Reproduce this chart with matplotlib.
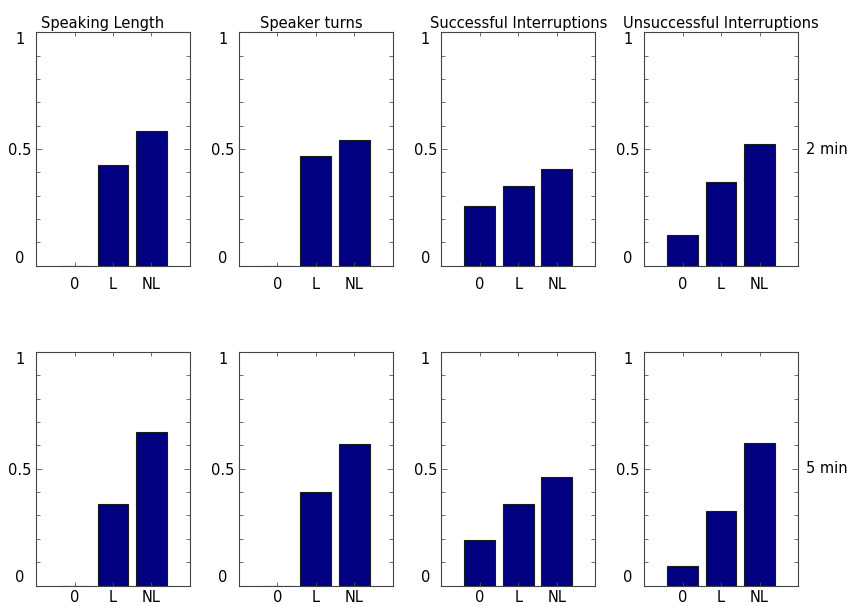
import numpy as np
import matplotlib
matplotlib.use("Agg")
import matplotlib.pyplot as plt
from matplotlib.ticker import MultipleLocator

# data
categories = ["0", "L", "NL"]
titles = ["Speaking Length", "Speaker turns", "Successful Interruptions", "Unsuccessful Interruptions"]
row_labels = ["2 min", "5 min"]

# 2 min window
speaking_length_2 = [0.0, 0.43, 0.577]
speaker_turns_2 = [0.0, 0.47, 0.54]
succ_interr_2 = [0.254, 0.34, 0.416]
unsucc_interr_2 = [0.13, 0.36, 0.52]

# 5 min window
speaking_length_5 = [0.0, 0.35, 0.658]
speaker_turns_5 = [0.0, 0.40, 0.606]
succ_interr_5 = [0.197, 0.35, 0.464]
unsucc_interr_5 = [0.083, 0.318, 0.609]

rows = [
    [speaking_length_2, speaker_turns_2, succ_interr_2, unsucc_interr_2],
    [speaking_length_5, speaker_turns_5, succ_interr_5, unsucc_interr_5],
]

fig = plt.figure(figsize=(8.48, 6.07), dpi=100)

lefts = [36, 238.7, 441.3, 644]
tops = [32.3, 352.0]
title_x = [0.43, 0.47, 0.5, 0.5]
xpads = [8, 3]
W, H = 848.0, 607.0
ax_w, ax_h = 154.0, 233.5
fs = 10.5

x = np.arange(1, len(categories) + 1)

for r, row in enumerate(rows):
    for c, vals in enumerate(row):
        ax = fig.add_axes([lefts[c] / W, 1 - (tops[r] + ax_h) / H, ax_w / W, ax_h / H])
        ax.bar(x, vals, width=0.8, color="#000080", edgecolor="#1a1a1a", linewidth=0.8)
        ax.set_xlim(0, 4)
        ax.set_ylim(0, 1)
        ax.set_xticks(x)
        ax.set_xticklabels(categories, fontsize=fs)
        ax.set_yticks([0, 0.5, 1])
        ax.set_yticklabels(["0", "0.5", "1"], fontsize=fs)
        ax.yaxis.set_minor_locator(MultipleLocator(0.1))
        ax.tick_params(axis="both", which="both", direction="in", top=True, right=True,
                       color="#555555", width=0.6)
        ax.tick_params(axis="y", which="major", length=4, pad=11.5)
        ax.tick_params(axis="y", which="minor", length=3)
        ax.tick_params(axis="x", which="major", length=3, pad=xpads[r])
        for lbl in ax.get_yticklabels():
            lbl.set_horizontalalignment("center")
        ylbls = ax.get_yticklabels()
        ylbls[0].set_verticalalignment("bottom")
        ylbls[2].set_verticalalignment("top")
        for sp in ax.spines.values():
            sp.set_color("#444444")
            sp.set_linewidth(0.8)
        if r == 0:
            ax.set_title(titles[c], fontsize=fs, pad=3, x=title_x[c])
        if c == 3:
            ax.text(1.05, 0.5, row_labels[r], transform=ax.transAxes, fontsize=fs,
                    ha="left", va="center")

fig.savefig("out.png", dpi=100)
